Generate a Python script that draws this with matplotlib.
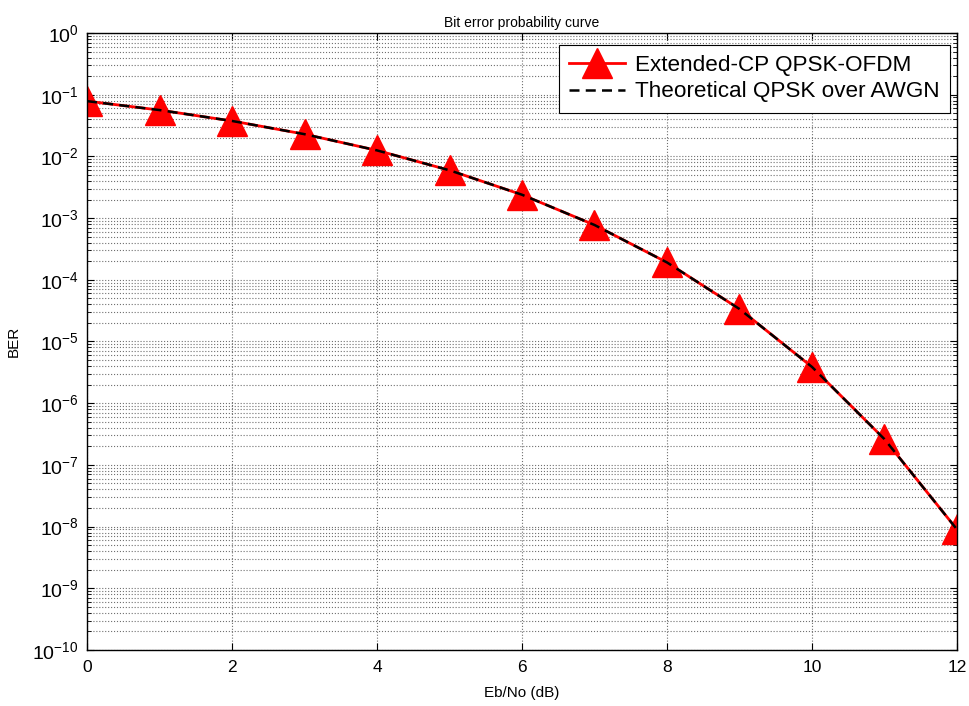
import matplotlib
matplotlib.use("Agg")
import matplotlib.pyplot as plt
from matplotlib.ticker import LogLocator, NullFormatter

plt.rcParams['font.family'] = ['Liberation Sans', 'DejaVu Sans']
plt.rcParams['axes.unicode_minus'] = False
plt.rcParams['mathtext.fontset'] = 'custom'
plt.rcParams['mathtext.rm'] = 'Liberation Sans'
plt.rcParams['mathtext.it'] = 'Liberation Sans:italic'
plt.rcParams['mathtext.bf'] = 'Liberation Sans:bold'

ebno_db = [0, 1, 2, 3, 4, 5, 6, 7, 8, 9, 10, 11, 12]
ber_sim = [7.86e-2, 5.63e-2, 3.75e-2, 2.29e-2, 1.25e-2, 5.95e-3, 2.39e-3,
           7.73e-4, 1.91e-4, 3.36e-5, 3.87e-6, 2.61e-7, 9.0e-9]
ber_theory = [7.86e-2, 5.63e-2, 3.75e-2, 2.29e-2, 1.25e-2, 5.95e-3, 2.39e-3,
              7.73e-4, 1.91e-4, 3.36e-5, 3.87e-6, 2.61e-7, 9.0e-9]
xticks = [0, 2, 4, 6, 8, 10, 12]
ytick_exps = list(range(-10, 1))

fig = plt.figure(figsize=(9.69, 7.06), dpi=100)
ax = fig.add_axes([0.0898, 0.0793, 0.8978, 0.874])

ax.semilogy(ebno_db, ber_sim, color='red', lw=2, marker='^', ms=21,
            markerfacecolor='red', markeredgecolor='red',
            label='Extended-CP QPSK-OFDM')
ax.semilogy(ebno_db, ber_theory, color='black', lw=1.8, ls=(0, (4, 2.5)),
            label='Theoretical QPSK over AWGN')

ax.set_xlim(0, 12)
ax.set_ylim(1e-10, 1)
ax.set_xticks(xticks)
ax.set_yticks([10.0 ** e for e in ytick_exps])
ax.set_yticklabels([r'$\mathregular{10^{%d}}$' % e for e in ytick_exps])
ax.yaxis.set_minor_locator(LogLocator(base=10, subs=range(2, 10), numticks=100))
ax.yaxis.set_minor_formatter(NullFormatter())

ax.grid(True, which='major', color='#707070', ls=':', lw=0.8)
ax.grid(True, which='minor', axis='y', color='#707070', ls=':', lw=0.8)
ax.tick_params(which='both', direction='in', top=True, right=True)
ax.tick_params(axis='x', labelsize=12.5, pad=7)
ax.tick_params(axis='y', labelsize=14, pad=6)
ax.tick_params(which='major', length=5)
ax.tick_params(which='minor', length=3)
for s in ax.spines.values():
    s.set_linewidth(1.0)

ax.set_xlabel('Eb/No (dB)', fontsize=11, labelpad=8)
ax.set_ylabel('BER', fontsize=11, labelpad=8)
ax.set_title('Bit error probability curve', fontsize=10, pad=4)

leg = ax.legend(loc='upper right', bbox_to_anchor=(0.992, 0.981),
                fontsize=16.2, fancybox=False, framealpha=1,
                edgecolor='black', borderaxespad=0.0, handlelength=2.5,
                borderpad=0.45, labelspacing=0.25, handletextpad=0.45)
leg.get_frame().set_linewidth(0.8)

fig.savefig('out.png', dpi=100)
